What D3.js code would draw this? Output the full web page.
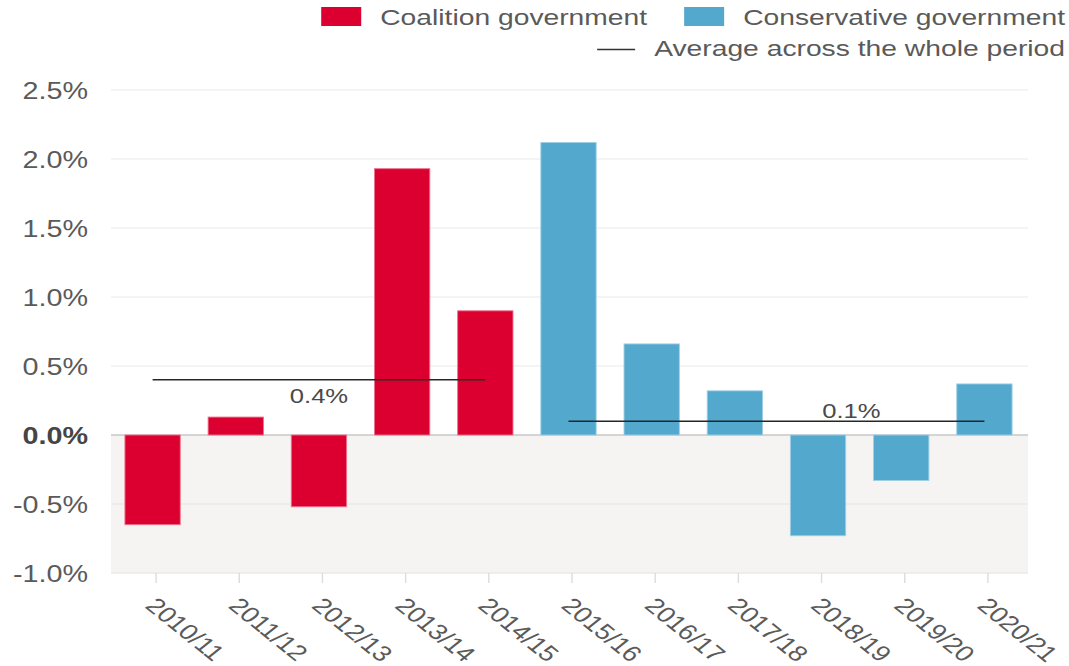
<!DOCTYPE html>
<html>
<head>
<meta charset="utf-8">
<script src="https://cdn.jsdelivr.net/npm/d3@7"></script>
<style>
  html, body { margin: 0; padding: 0; background: #ffffff; }
  svg { display: block; }
  text { font-family: "Liberation Sans", Arial, Helvetica, sans-serif; }
</style>
</head>
<body>
<svg id="chart" width="1069" height="666"></svg>
<script>
// Year-on-year real change, by financial year
const years = ["2010/11", "2011/12", "2012/13", "2013/14", "2014/15", "2015/16",
               "2016/17", "2017/18", "2018/19", "2019/20", "2020/21"];
const changes = [-0.65, 0.13, -0.52, 1.93, 0.90, 2.12, 0.66, 0.32, -0.73, -0.33, 0.37];
const governments = ["Coalition", "Coalition", "Coalition", "Coalition", "Coalition",
                     "Conservative", "Conservative", "Conservative", "Conservative",
                     "Conservative", "Conservative"];

// Series and their legend labels
const seriesKeys = ["Coalition", "Conservative"];
const seriesLabels = ["Coalition government", "Conservative government"];
const averageLegendLabel = "Average across the whole period";

// Period averages, one per government
const averageValues = [0.4, 0.1];
const averageLabels = ["0.4%", "0.1%"];

// Value axis ticks
const yTicks = [-1.0, -0.5, 0.0, 0.5, 1.0, 1.5, 2.0, 2.5];

// ---------------------------------------------------------------------------
const W = 1069, H = 666;
const plotLeft = 111, plotRight = 1028, plotTop = 90, plotBottom = 573;
const STRETCH = 1.25;          // horizontal widening applied to all text
const textColor = "#5a5a5a";
const colors = { Coalition: "#dc0030", Conservative: "#53a8ce" };

const svg = d3.select("#chart");

const x = d3.scaleBand()
  .domain(years)
  .range([plotLeft, 1026])
  .paddingInner(0.335)
  .paddingOuter(0.1675);

const y = d3.scaleLinear()
  .domain([d3.min(yTicks), d3.max(yTicks)])
  .range([plotBottom, plotTop]);

const centre = d => x(d) + x.bandwidth() / 2;
const tickOffset = 3.5;

// Shaded band below zero
svg.append("rect")
  .attr("x", plotLeft)
  .attr("y", y(0))
  .attr("width", plotRight - plotLeft)
  .attr("height", y(d3.min(yTicks)) - y(0))
  .attr("fill", "#f5f4f2");

// Horizontal gridlines
svg.append("g")
  .selectAll("line")
  .data(yTicks.filter(t => t !== 0))
  .join("line")
  .attr("x1", plotLeft)
  .attr("x2", plotRight)
  .attr("y1", d => y(d))
  .attr("y2", d => y(d))
  .attr("stroke", d => d < 0 ? "#ebeae7" : "#f0f0f0")
  .attr("stroke-width", 1.6);

// Zero line
svg.append("line")
  .attr("x1", plotLeft)
  .attr("x2", plotRight)
  .attr("y1", y(0))
  .attr("y2", y(0))
  .attr("stroke", "#c9c9c9")
  .attr("stroke-width", 1.4);

// Y axis labels
const yAxis = d3.axisLeft(y)
  .tickValues(yTicks)
  .tickSize(0)
  .tickPadding(0)
  .tickFormat(d => d.toFixed(1) + "%");

const yAxisG = svg.append("g")
  .attr("transform", `translate(${plotLeft},0)`)
  .call(yAxis)
  .attr("font-family", null)
  .attr("font-size", null);
yAxisG.select(".domain").remove();
yAxisG.selectAll(".tick line").remove();
yAxisG.selectAll(".tick text")
  .attr("x", 0)
  .attr("dy", "0.35em")
  .attr("transform", `translate(-23,0) scale(${STRETCH},1)`)
  .style("font-size", "23px")
  .style("fill", d => d === 0 ? "#454545" : textColor)
  .style("font-weight", d => d === 0 ? "bold" : "normal");

// X axis ticks and rotated labels
const xAxisG = svg.append("g");
xAxisG.selectAll("line")
  .data(years)
  .join("line")
  .attr("x1", d => centre(d) + tickOffset)
  .attr("x2", d => centre(d) + tickOffset)
  .attr("y1", plotBottom)
  .attr("y2", plotBottom + 10)
  .attr("stroke", "#dcdcdc")
  .attr("stroke-width", 1.4);

xAxisG.selectAll("text")
  .data(years)
  .join("text")
  .attr("transform", d =>
    `translate(${centre(d) + tickOffset - 12},${plotBottom + 34}) scale(${STRETCH},1) rotate(45)`)
  .attr("text-anchor", "start")
  .style("font-size", "22px")
  .style("fill", textColor)
  .text(d => d);

// Bars
const bars = years.map((yr, i) => ({ year: yr, value: changes[i], gov: governments[i] }));
svg.append("g")
  .selectAll("rect")
  .data(bars)
  .join("rect")
  .attr("x", d => x(d.year))
  .attr("y", d => y(Math.max(0, d.value)))
  .attr("width", x.bandwidth())
  .attr("height", d => Math.abs(y(d.value) - y(0)))
  .attr("fill", d => colors[d.gov])
  .attr("stroke", d => d3.interpolateRgb(colors[d.gov], "#ffffff")(0.45))
  .attr("stroke-width", 0.9);

// Period average lines and their labels
const labelAlong = [0.5, 0.68];
const labelBelow = [true, false];
seriesKeys.forEach((key, i) => {
  const span = years.filter((yr, j) => governments[j] === key);
  const x1 = centre(span[0]);
  const x2 = centre(span[span.length - 1]);
  const yy = y(averageValues[i]);
  svg.append("line")
    .attr("x1", x1).attr("x2", x2)
    .attr("y1", yy).attr("y2", yy)
    .attr("stroke", "#262626")
    .attr("stroke-width", 1.5);
  const lx = x1 + (x2 - x1) * labelAlong[i];
  const ly = labelBelow[i] ? yy + 23 : yy - 3.5;
  svg.append("text")
    .attr("transform", `translate(${lx},${ly}) scale(${STRETCH},1)`)
    .attr("text-anchor", "middle")
    .style("font-size", "20.5px")
    .style("fill", "#4a4a4a")
    .text(averageLabels[i]);
});

// Legend, right-aligned
const legendRight = 1065;
const legendFont = "22.6px";
const legend = svg.append("g");

function stretchedText(g, tx, ty, str, anchor) {
  return g.append("text")
    .attr("transform", `translate(${tx},${ty}) scale(${STRETCH},1)`)
    .attr("text-anchor", anchor)
    .style("font-size", legendFont)
    .style("fill", textColor)
    .text(str);
}

// Row 1: series swatches
let cursor = legendRight;
for (let i = seriesKeys.length - 1; i >= 0; i--) {
  const t = stretchedText(legend, cursor, 25, seriesLabels[i], "end");
  const w = t.node().getComputedTextLength() * STRETCH;
  const start = cursor - w;
  legend.append("rect")
    .attr("x", start - 19 - 40)
    .attr("y", 7)
    .attr("width", 40)
    .attr("height", 19)
    .attr("fill", colors[seriesKeys[i]]);
  cursor = start - 19 - 40 - 37;
}

// Row 2: average line key
const avgText = stretchedText(legend, legendRight, 56, averageLegendLabel, "end");
const avgW = avgText.node().getComputedTextLength() * STRETCH;
legend.append("line")
  .attr("x1", legendRight - avgW - 19 - 38)
  .attr("x2", legendRight - avgW - 19)
  .attr("y1", 49.5)
  .attr("y2", 49.5)
  .attr("stroke", "#333333")
  .attr("stroke-width", 1.5);
</script>
</body>
</html>
